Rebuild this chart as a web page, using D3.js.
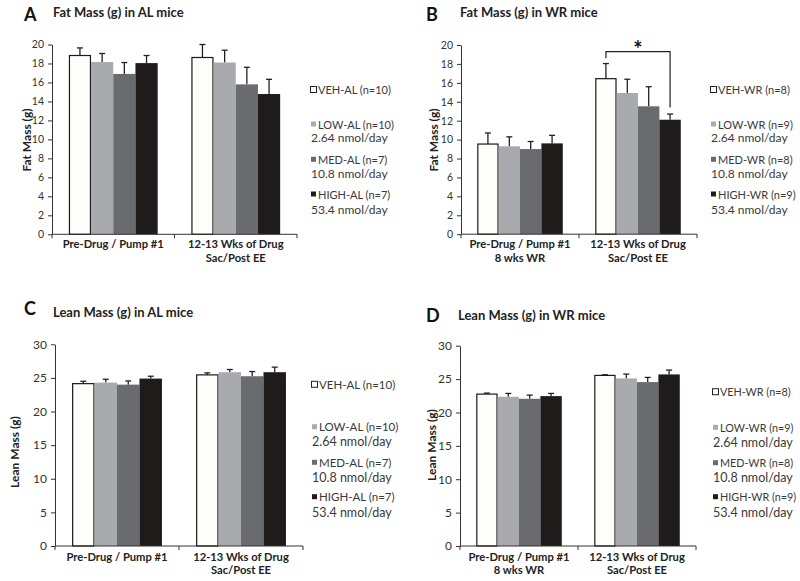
<!DOCTYPE html>
<html>
<head>
<meta charset="utf-8">
<script src="https://cdn.jsdelivr.net/npm/d3@7"></script>
<style>
  html, body { margin: 0; padding: 0; background: #fff; }
  svg { display: block; font-family: Lato, "Open Sans", sans-serif; }
</style>
</head>
<body>
<svg id="chart" width="800" height="581"></svg>
<script>
// ---------------- DATA ----------------
const categoriesAL = [["Pre-Drug / Pump #1"], ["12-13 Wks of Drug", "Sac/Post EE"]];
const categoriesWR = [["Pre-Drug / Pump #1", "8 wks WR"], ["12-13 Wks of Drug", "Sac/Post EE"]];

const seriesAL = ["VEH-AL (n=10)", "LOW-AL (n=10)", "MED-AL (n=7)", "HIGH-AL (n=7)"];
const seriesWR = ["VEH-WR (n=8)", "LOW-WR (n=9)", "MED-WR (n=8)", "HIGH-WR (n=9)"];
const doses = ["", "2.64 nmol/day", "10.8 nmol/day", "53.4 nmol/day"];

// values: one row per series (VEH, LOW, MED, HIGH), one column per category
const fatALMean = [[18.84, 18.63], [18.15, 18.10], [16.90, 15.80], [18.04, 14.78]];
const fatALErr  = [[0.80, 1.37], [0.90, 1.30], [1.20, 1.80], [0.80, 1.55]];
const fatWRMean = [[9.53, 16.44], [9.29, 14.93], [9.00, 13.52], [9.60, 12.10]];
const fatWRErr  = [[1.17, 1.60], [1.00, 1.45], [0.80, 2.07], [0.85, 0.60]];
const leanALMean = [[24.15, 25.45], [24.30, 25.85], [24.00, 25.25], [24.90, 25.85]];
const leanALErr  = [[0.35, 0.30], [0.50, 0.40], [0.55, 0.70], [0.35, 0.75]];
const leanWRMean = [[22.75, 25.55], [22.35, 25.10], [22.05, 24.55], [22.45, 25.70]];
const leanWRErr  = [[0.15, 0.10], [0.50, 0.65], [0.55, 0.70], [0.40, 0.65]];

const fatTicks = [0, 2, 4, 6, 8, 10, 12, 14, 16, 18, 20];
const leanTicks = [0, 5, 10, 15, 20, 25, 30];

// significance bracket in panel B: from VEH to HIGH in category 2
const sigBracket = { cat: 1, from: 0, to: 3, top: 19.3, leftEnd: 18.6, rightEnd: 13.4, label: "*" };

// ---------------- STYLE / LAYOUT ----------------
const fills = ["#fdfdf9", "#a9aaae", "#696b6e", "#1f1b1b"];
const strokes = ["#1a1a1a", "none", "none", "none"];

const panels = [
  { letter: "A", title: "Fat Mass (g) in AL mice", yTitle: "Fat Mass (g)", cats: categoriesAL, series: seriesAL,
    mean: fatALMean, err: fatALErr, ticks: fatTicks, domain: [0, 20],
    left: 52, right: 297, y0: 234.3, yTop: 44.5, tickFont: 10.5, catFont: 11.2,
    letterPos: [24, 21], titlePos: [53, 16.5], yTitlePos: [26, 140], catY: 248, catGap: 13.5,
    legX: 310, legRows: [89.5, 124, 137.5, 159.3, 173.3, 194, 209], legFont: 11, doseFont: 12 },
  { letter: "B", title: "Fat Mass (g) in WR mice", yTitle: "Fat Mass (g)", cats: categoriesWR, series: seriesWR,
    mean: fatWRMean, err: fatWRErr, ticks: fatTicks, domain: [0, 20],
    left: 461, right: 697, y0: 234.2, yTop: 45, tickFont: 10.5, catFont: 11.2,
    letterPos: [426, 20.5], titlePos: [460, 17], yTitlePos: [433, 140], catY: 248, catGap: 13.5,
    legX: 710, legRows: [89.5, 124, 137.5, 159.3, 173.5, 194, 209], legFont: 11, doseFont: 12, sig: sigBracket },
  { letter: "C", title: "Lean Mass (g) in AL mice", yTitle: "Lean Mass (g)", cats: categoriesAL, series: seriesAL,
    mean: leanALMean, err: leanALErr, ticks: leanTicks, domain: [0, 30],
    left: 55, right: 303, y0: 546, yTop: 344.3, tickFont: 12, catFont: 11.2,
    letterPos: [24, 315], titlePos: [53, 316.7], yTitlePos: [14, 452], catY: 560.5, catGap: 13.4,
    legX: 311, legRows: [384.3, 426.7, 441, 462.3, 477.7, 496.7, 512.3], legFont: 11.5, doseFont: 12.5 },
  { letter: "D", title: "Lean Mass (g) in WR mice", yTitle: "Lean Mass (g)", cats: categoriesWR, series: seriesWR,
    mean: leanWRMean, err: leanWRErr, ticks: leanTicks, domain: [0, 30],
    left: 460, right: 696, y0: 546, yTop: 345.7, tickFont: 12, catFont: 11.2,
    letterPos: [426, 321.5], titlePos: [458, 319.5], yTitlePos: [431, 445], catY: 560.5, catGap: 13.4,
    legX: 712, legRows: [391.7, 427.3, 442, 462.7, 477.7, 496.7, 512.3], legFont: 10.8, doseFont: 12.5 }
];

const svg = d3.select("#chart");
const axisColor = "#333";
const groupRatio = 0.725;

panels.forEach(p => {
  const g = svg.append("g");

  // scales
  const x0 = d3.scaleBand().domain(d3.range(p.cats.length)).range([p.left, p.right]).padding(0);
  const bw = x0.bandwidth();
  const x1 = d3.scaleBand().domain(d3.range(p.series.length)).range([0, bw * groupRatio]).padding(0);
  const groupStart = i => x0(i) + bw * (1 - groupRatio) / 2;
  const y = d3.scaleLinear().domain(p.domain).range([p.y0, p.yTop]);

  // bars
  p.series.forEach((s, si) => {
    p.cats.forEach((c, ci) => {
      const v = p.mean[si][ci];
      const e = p.err[si][ci];
      const bx = groupStart(ci) + x1(si);
      const cx = bx + x1.bandwidth() / 2;
      // error bar (upper only)
      g.append("line").attr("x1", cx).attr("x2", cx).attr("y1", y(v)).attr("y2", y(v + e))
        .attr("stroke", "#222").attr("stroke-width", 1.3);
      g.append("line").attr("x1", cx - 3).attr("x2", cx + 3).attr("y1", y(v + e)).attr("y2", y(v + e))
        .attr("stroke", "#222").attr("stroke-width", 1.3);
      g.append("rect")
        .attr("x", bx + (si === 0 ? 0.6 : 0)).attr("y", y(v))
        .attr("width", x1.bandwidth() - (si === 0 ? 1.2 : 0)).attr("height", y(p.domain[0]) - y(v))
        .attr("fill", fills[si])
        .attr("stroke", strokes[si]).attr("stroke-width", 1.2);
    });
  });

  // y axis
  const yAxis = d3.axisLeft(y).tickValues(p.ticks).tickSize(4).tickSizeOuter(0).tickPadding(4);
  const ya = g.append("g").attr("transform", `translate(${p.left},0)`).call(yAxis);
  ya.select(".domain").attr("stroke", axisColor).attr("stroke-width", 1);
  ya.selectAll(".tick line").attr("stroke", axisColor);
  ya.selectAll(".tick text").attr("fill", "#333").attr("font-size", p.tickFont)
    .attr("font-family", "Lato, sans-serif");

  // x axis: ticks at band boundaries
  const xb = g.append("g");
  xb.append("line").attr("x1", p.left).attr("x2", p.right).attr("y1", p.y0).attr("y2", p.y0)
    .attr("stroke", axisColor).attr("stroke-width", 1);
  const bounds = d3.range(p.cats.length + 1).map(i => i < p.cats.length ? x0(i) : p.right);
  bounds.forEach(bx => {
    xb.append("line").attr("x1", bx).attr("x2", bx).attr("y1", p.y0).attr("y2", p.y0 + 4)
      .attr("stroke", axisColor).attr("stroke-width", 1);
  });
  p.cats.forEach((lines, ci) => {
    lines.forEach((ln, li) => {
      xb.append("text").attr("text-anchor", "middle").attr("font-weight", "bold")
        .attr("font-size", p.catFont).attr("fill", "#222")
        .attr("x", x0(ci) + bw / 2).attr("y", p.catY + li * p.catGap).text(ln);
    });
  });

  // y title
  g.append("text").attr("transform", `translate(${p.yTitlePos[0]},${p.yTitlePos[1]}) rotate(-90)`)
    .attr("text-anchor", "middle").attr("dominant-baseline", "central")
    .attr("font-weight", "bold").attr("font-size", 12).attr("fill", "#222").text(p.yTitle);

  // panel letter and title
  g.append("text").attr("x", p.letterPos[0]).attr("y", p.letterPos[1]).attr("font-weight", "bold")
    .attr("font-size", 18).attr("fill", "#111").text(p.letter);
  g.append("text").attr("x", p.titlePos[0]).attr("y", p.titlePos[1]).attr("font-weight", "bold")
    .attr("font-size", 13).attr("fill", "#222").text(p.title);

  // legend
  const lg = g.append("g").attr("fill", "#3a3a3a");
  const rowIdx = [[0], [1, 2], [3, 4], [5, 6]];
  p.series.forEach((s, si) => {
    const ry = p.legRows[rowIdx[si][0]];
    const sz = si === 0 ? 6 : 5;
    lg.append("rect").attr("x", p.legX + (si === 0 ? 0.5 : 1)).attr("y", ry - sz / 2)
      .attr("width", sz).attr("height", sz)
      .attr("fill", fills[si]).attr("stroke", si === 0 ? "#222" : "none").attr("stroke-width", 1);
    lg.append("text").attr("x", p.legX + 8).attr("y", ry).attr("dominant-baseline", "central")
      .attr("font-size", p.legFont).text(s);
    if (doses[si]) {
      lg.append("text").attr("x", p.legX + 1).attr("y", p.legRows[rowIdx[si][1]])
        .attr("dominant-baseline", "central").attr("font-size", p.doseFont).text(doses[si]);
    }
  });

  // significance bracket
  if (p.sig) {
    const sg = p.sig;
    const xl = groupStart(sg.cat) + x1(sg.from) + x1.bandwidth() / 2;
    const xr = groupStart(sg.cat) + x1(sg.to) + x1.bandwidth() / 2;
    g.append("path")
      .attr("d", `M${xl},${y(sg.leftEnd)}V${y(sg.top)}H${xr}V${y(sg.rightEnd)}`)
      .attr("fill", "none").attr("stroke", "#222").attr("stroke-width", 1.2);
    g.append("text").attr("x", (xl + xr) / 2).attr("y", y(sg.top) + 5)
      .attr("text-anchor", "middle").attr("font-weight", "bold").attr("font-size", 22)
      .attr("fill", "#111").text(sg.label);
  }
});
</script>
</body>
</html>
